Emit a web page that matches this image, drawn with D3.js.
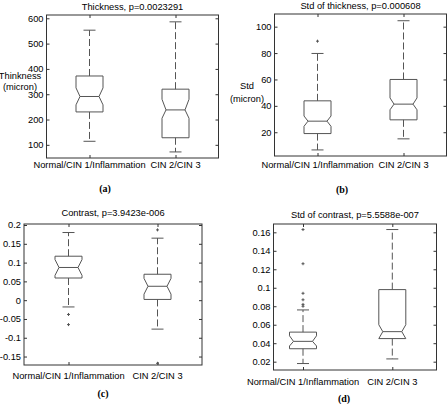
<!DOCTYPE html>
<html><head><meta charset="utf-8">
<script src="https://cdn.jsdelivr.net/npm/d3@7"></script>
<style>
body{margin:0;background:#fff}
svg{display:block}
text{font-family:"Liberation Sans",Arial,sans-serif;fill:#000}
</style>
</head><body>
<svg id="chart" width="448" height="404"></svg>
<script>
// ---------- DATA ----------
const groups = ["Normal/CIN 1/Inflammation", "CIN 2/CIN 3"];

// five-number summaries: [lowerWhisker, q1, median, q3, upperWhisker]
const thicknessStats   = [[114, 230, 291, 372, 553], [72, 128, 238, 320, 586]];
const thicknessNotch   = [[258, 325], [205, 280]];
const thicknessOutliers = [[], []];
const thicknessTicks   = [100, 200, 300, 400, 500, 600];

const stdThickStats    = [[6.6, 19, 28.4, 43.8, 79.7], [15, 29.4, 41.3, 60, 104.5]];
const stdThickNotch    = [[24.5, 32.3], [37, 46]];
const stdThickOutliers = [[89], []];
const stdThickTicks    = [20, 40, 60, 80, 100];

const contrastStats    = [[-0.018, 0.059, 0.087, 0.117, 0.18], [-0.077, 0.002, 0.037, 0.069, 0.165]];
const contrastNotch    = [[0.066, 0.108], [0.016, 0.058]];
const contrastOutliers = [[-0.038, -0.065], [0.187, -0.168]];
const contrastTicks    = [-0.15, -0.1, -0.05, 0, 0.05, 0.1, 0.15, 0.2];

const stdContStats     = [[0.018, 0.034, 0.042, 0.052, 0.076], [0.023, 0.045, 0.0525, 0.098, 0.163]];
const stdContNotch     = [[0.037, 0.048], [0.045, 0.060]];
const stdContOutliers  = [[0.163, 0.126, 0.094, 0.087, 0.082, 0.080], []];
const stdContTicks     = [0.02, 0.04, 0.06, 0.08, 0.1, 0.12, 0.14, 0.16];

const titles = ["Thickness, p=0.0023291", "Std of thickness, p=0.000608",
                "Contrast, p=3.9423e-006", "Std of contrast, p=5.5588e-007"];
const captions = ["(a)", "(b)", "(c)", "(d)"];
const yLabels = [["Thinkness", "(micron)"], ["Std", "(micron)"], [], []];

// ---------- LAYOUT ----------
const panels = [
  {stats: thicknessStats, notch: thicknessNotch, out: thicknessOutliers, ticks: thicknessTicks,
   ylim: [48, 613], left: 46.5, right: 218.5, top: 15, bottom: 158, c1: 89.5, c2: 175.5,
   titleY: 9.5, xlabY: 167.5, capX: 105, capY: 192, ylabX: 20, ylabY: [78.5, 89.5]},
  {stats: stdThickStats, notch: stdThickNotch, out: stdThickOutliers, ticks: stdThickTicks,
   ylim: [2, 109.6], left: 274.5, right: 446.5, top: 14, bottom: 156, c1: 317.5, c2: 403.5,
   titleY: 8.5, xlabY: 167.5, capX: 342, capY: 193, ylabX: 247, ylabY: [89, 102]},
  {stats: contrastStats, notch: contrastNotch, out: contrastOutliers, ticks: contrastTicks,
   ylim: [-0.1725, 0.2027], left: 24, right: 202, top: 224, bottom: 365, c1: 68.5, c2: 157.5,
   titleY: 216, xlabY: 379, capX: 103, capY: 397, ylabX: 0, ylabY: []},
  {stats: stdContStats, notch: stdContNotch, out: stdContOutliers, ticks: stdContTicks,
   ylim: [0.011, 0.169], left: 273.5, right: 436.5, top: 224, bottom: 370, c1: 303, c2: 392.3,
   titleY: 218, xlabY: 385, capX: 344, capY: 402, ylabX: 0, ylabY: []}
];

const svg = d3.select("#chart");
const FS = 9.3;
const boxW = 27, capW = 12, notchIn = 4;
const boxColor = "#555", axisColor = "#333";
const fmt = v => String(+v.toFixed(4));

panels.forEach((p, pi) => {
  const g = svg.append("g");
  const x = d3.scaleLinear().domain([1, 2]).range([p.c1, p.c2]);
  const y = d3.scaleLinear().domain(p.ylim).range([p.bottom, p.top]);

  // axes
  const yL = g.append("g").attr("transform", `translate(${p.left},0)`)
    .call(d3.axisLeft(y).tickValues(p.ticks).tickSize(-3).tickPadding(3).tickFormat(fmt));
  const yR = g.append("g").attr("transform", `translate(${p.right},0)`)
    .call(d3.axisRight(y).tickValues(p.ticks).tickSize(-3).tickFormat(""));
  const xB = g.append("g").attr("transform", `translate(0,${p.bottom})`)
    .call(d3.axisBottom(x).tickValues([1, 2]).tickSize(-3).tickFormat(""));
  const xT = g.append("g").attr("transform", `translate(0,${p.top})`)
    .call(d3.axisTop(x).tickValues([1, 2]).tickSize(-3).tickFormat(""));
  [yL, yR, xB, xT].forEach(a => {
    a.select(".domain").remove();
    a.selectAll("line").attr("stroke", axisColor);
    a.selectAll("text").attr("font-size", FS).attr("font-family", "Liberation Sans, Arial, sans-serif").attr("fill", "#000");
  });
  g.append("rect").attr("x", p.left).attr("y", p.top)
    .attr("width", p.right - p.left).attr("height", p.bottom - p.top)
    .attr("fill", "none").attr("stroke", axisColor).attr("stroke-width", 1);

  // group labels
  groups.forEach((gname, i) => {
    g.append("text").attr("x", x(i + 1)).attr("y", p.xlabY)
      .attr("text-anchor", "middle").attr("font-size", FS).text(gname);
  });

  // boxes
  p.stats.forEach((s, i) => {
    const [lw, q1, med, q3, uw] = s;
    const [nLo, nHi] = p.notch[i];
    const cx = x(i + 1), xl = cx - boxW / 2, xr = cx + boxW / 2;
    const path = d3.path();
    path.moveTo(xl, y(q3)); path.lineTo(xr, y(q3));
    path.lineTo(xr, y(nHi)); path.lineTo(xr - notchIn, y(med));
    path.lineTo(xr, y(nLo)); path.lineTo(xr, y(q1));
    path.lineTo(xl, y(q1)); path.lineTo(xl, y(nLo));
    path.lineTo(xl + notchIn, y(med)); path.lineTo(xl, y(nHi));
    path.closePath();
    g.append("path").attr("d", path.toString()).attr("fill", "none")
      .attr("stroke", boxColor).attr("stroke-width", 1);
    g.append("line").attr("x1", xl + notchIn).attr("x2", xr - notchIn)
      .attr("y1", y(med)).attr("y2", y(med)).attr("stroke", boxColor);
    // whiskers
    [[q3, uw], [q1, lw]].forEach(([a, b]) => {
      g.append("line").attr("x1", cx).attr("x2", cx).attr("y1", y(a)).attr("y2", y(b))
        .attr("stroke", boxColor).attr("stroke-dasharray", "7,3");
      g.append("line").attr("x1", cx - capW / 2).attr("x2", cx + capW / 2)
        .attr("y1", y(b)).attr("y2", y(b)).attr("stroke", boxColor);
    });
    // outliers
    p.out[i].forEach(v => {
      g.append("path").attr("d", `M${cx - 1.5},${y(v)}h3M${cx},${y(v) - 1.5}v3`)
        .attr("stroke", boxColor).attr("stroke-width", 1);
    });
  });

  // title
  g.append("text").attr("x", (p.left + p.right) / 2).attr("y", p.titleY)
    .attr("text-anchor", "middle").attr("font-size", FS).text(titles[pi]);
  // y label (horizontal, two lines)
  yLabels[pi].forEach((t, k) => {
    g.append("text").attr("x", p.ylabX).attr("y", p.ylabY[k])
      .attr("text-anchor", "middle").attr("font-size", FS).text(t);
  });
  // caption
  g.append("text").attr("x", p.capX).attr("y", p.capY)
    .attr("text-anchor", "middle").attr("font-size", 10).attr("font-weight", "bold")
    .style("font-family", "Liberation Serif, Times New Roman, serif").text(captions[pi]);
});
</script>
</body></html>
